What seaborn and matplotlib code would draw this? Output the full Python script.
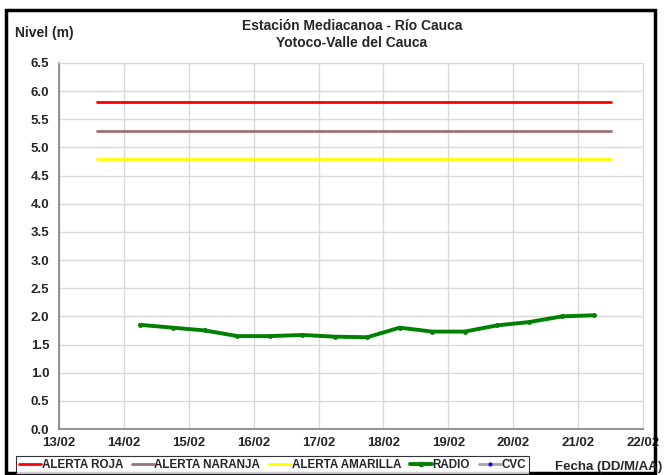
import pandas as pd
import matplotlib.pyplot as plt
import matplotlib.dates as mdates
from matplotlib.patches import Rectangle
from matplotlib.lines import Line2D
import seaborn as sns

# -----------------------------
# Data
# -----------------------------
radio_times = pd.date_range("2024-02-14 06:00", periods=15, freq="12h")
radio_levels = [1.85, 1.80, 1.75, 1.65, 1.65, 1.67, 1.64, 1.63,
                1.80, 1.73, 1.73, 1.84, 1.90, 2.00, 2.02]

alert_span = pd.to_datetime(["2024-02-13 14:00", "2024-02-21 12:00"])
alert_names = ["ALERTA ROJA", "ALERTA NARANJA", "ALERTA AMARILLA"]
alert_levels = [5.8, 5.3, 4.8]
alert_colors = ["#FF0000", "#A07272", "#FFFF00"]

title_lines = ["Estación Mediacanoa - Río Cauca", "Yotoco-Valle del Cauca"]

# -----------------------------
# Plot
# -----------------------------
sns.set_style("white")
plt.rcParams["font.family"] = ["Liberation Sans", "DejaVu Sans"]
plt.rcParams["font.weight"] = "bold"

fig = plt.figure(figsize=(6.64, 4.75), dpi=100)
ax = fig.add_axes([0.0889, 0.0968, 0.8795, 0.7706])

for name, lvl, col in zip(alert_names, alert_levels, alert_colors):
    df_alert = pd.DataFrame({"fecha": alert_span, "nivel": [lvl, lvl]})
    sns.lineplot(data=df_alert, x="fecha", y="nivel", color=col, lw=2, ax=ax)

df_radio = pd.DataFrame({"fecha": radio_times, "nivel": radio_levels})
sns.lineplot(data=df_radio, x="fecha", y="nivel", color="#008000", lw=2.8,
             marker="o", markersize=3.5, markeredgewidth=0, ax=ax)

ax.set_xlim(pd.Timestamp("2024-02-13"), pd.Timestamp("2024-02-22"))
ax.set_ylim(0, 6.5)
ax.set_yticks([i * 0.5 for i in range(14)])
ax.yaxis.set_major_formatter(plt.FuncFormatter(lambda v, p: f"{v:.1f}"))
ax.xaxis.set_major_locator(mdates.DayLocator())
ax.xaxis.set_major_formatter(mdates.DateFormatter("%d/%m"))
ax.grid(True, color="#D9D9D9", lw=1)
ax.set_xlabel("")
ax.set_ylabel("")
ax.tick_params(axis="both", labelsize=9.5, length=4, direction="out",
               color="#808080", pad=3)
ax.tick_params(axis="x", pad=2)
for lab in ax.get_xticklabels() + ax.get_yticklabels():
    lab.set_fontweight("bold")
for s in ["top", "right"]:
    ax.spines[s].set_color("#D9D9D9")
for s in ["left", "bottom"]:
    ax.spines[s].set_color("#808080")
    ax.spines[s].set_linewidth(1.2)

fig.text(0.530, 0.945, title_lines[0], ha="center", va="center", fontsize=10, fontweight="bold")
fig.text(0.530, 0.910, title_lines[1], ha="center", va="center", fontsize=10, fontweight="bold")
fig.text(0.022, 0.930, "Nivel (m)", ha="left", va="center", fontsize=10, fontweight="bold")
fig.text(0.997, 0.017, "Fecha (DD/M/AA)", ha="right", va="center", fontsize=9.5, fontweight="bold")

handles = [Line2D([], [], color=c, lw=2) for c in alert_colors]
handles.append(Line2D([], [], color="#008000", lw=2.8, marker="o", markersize=3))
handles.append(Line2D([], [], color="#A6A6A6", lw=2, marker="o", markersize=3,
                      markerfacecolor="#0000FF", markeredgewidth=0))
leg = fig.legend(handles, alert_names + ["RADIO", "CVC"], loc="lower left",
                 bbox_to_anchor=(0.024, 0.002), ncol=5, fontsize=8.4,
                 frameon=True, fancybox=False, handlelength=1.9,
                 handletextpad=0.05, columnspacing=0.75, borderpad=0.25,
                 borderaxespad=0)
leg.get_frame().set_edgecolor("#000000")
leg.get_frame().set_linewidth(0.8)
for t in leg.get_texts():
    t.set_fontweight("bold")

fig.patches.append(Rectangle((0.009, 0.005), 0.978, 0.973, transform=fig.transFigure,
                             fill=False, edgecolor="black", lw=2.5))

fig.savefig("out.png", dpi=100)
